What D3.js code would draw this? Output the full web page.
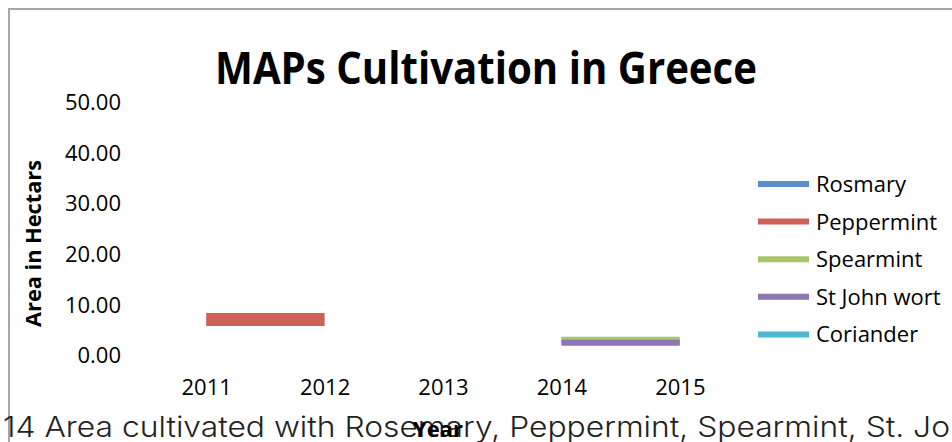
<!DOCTYPE html>
<html>
<head>
<meta charset="utf-8">
<script src="https://cdn.jsdelivr.net/npm/d3@7"></script>
<style>
  html, body { margin: 0; padding: 0; background: #fff; }
  svg { display: block; }
</style>
</head>
<body>
<svg id="chart" width="952" height="442"></svg>
<script>
// Hectares of medicinal and aromatic plants cultivated per year
const years = ["2011", "2012", "2013", "2014", "2015"];
const seriesNames = ["Rosmary", "Peppermint", "Spearmint", "St John wort", "Coriander"];
const seriesColors = ["#5a8ecb", "#cb6159", "#a9c46c", "#8d76b2", "#4fb7d1"];
const rosmary     = [null, null, null, null, null];
const peppermint  = [7.0, 7.0, null, null, null];
const spearmint   = [null, null, null, 3.0, 3.0];
const stJohnWort  = [null, null, null, 2.4, 2.4];
const coriander   = [null, null, null, null, null];
const yTicks = [0, 10, 20, 30, 40, 50];

const seriesValues = [rosmary, peppermint, spearmint, stJohnWort, coriander];
const strokeWidths = [6, 13, 6, 6, 6];

const svg = d3.select("#chart");
const font = "'Open Sans', 'Noto Sans', sans-serif";

// Chart frame
svg.append("path")
  .attr("d", "M9,442 V9 H952")
  .attr("fill", "none")
  .attr("stroke", "#a6a6a6")
  .attr("stroke-width", 2);

const x = d3.scalePoint().domain(years).range([147, 739]).padding(0.5);
const y = d3.scaleLinear().domain([0, 50]).range([355, 101.5]);

// Title
svg.append("text")
  .attr("x", 486).attr("y", 84)
  .attr("text-anchor", "middle")
  .attr("font-family", font).attr("font-weight", 700).attr("font-size", 45)
  .attr("textLength", 542).attr("lengthAdjust", "spacingAndGlyphs")
  .attr("fill", "#000")
  .text("MAPs Cultivation in Greece");

// Value axis (labels only)
const yAxis = svg.append("g")
  .attr("transform", "translate(121,0)")
  .call(d3.axisLeft(y).tickValues(yTicks).tickFormat(d3.format(".2f")).tickSize(0).tickPadding(0));
yAxis.select(".domain").remove();
yAxis.selectAll("text")
  .attr("font-family", font).attr("font-size", 22).attr("fill", "#000")
  .attr("dy", "0.36em");

// Category axis (labels only)
const xAxis = svg.append("g")
  .attr("transform", "translate(0,387)")
  .call(d3.axisBottom(x).tickSize(0).tickPadding(0));
xAxis.select(".domain").remove();
xAxis.selectAll("text")
  .attr("font-family", font).attr("font-size", 22).attr("fill", "#000")
  .attr("dy", "0.36em");

// Axis titles
svg.append("text")
  .attr("transform", "translate(41,243.5) rotate(-90)")
  .attr("text-anchor", "middle")
  .attr("font-family", font).attr("font-weight", 700).attr("font-size", 22)
  .attr("textLength", 167).attr("lengthAdjust", "spacingAndGlyphs")
  .attr("fill", "#000")
  .text("Area in Hectars");

// Series lines
const line = d3.line()
  .defined(d => d.v !== null)
  .x(d => x(d.year))
  .y(d => y(d.v));

seriesValues.forEach((vals, i) => {
  const pts = years.map((yr, j) => ({ year: yr, v: vals[j] }));
  svg.append("path")
    .datum(pts)
    .attr("d", line)
    .attr("fill", "none")
    .attr("stroke", seriesColors[i])
    .attr("stroke-width", strokeWidths[i])
    .attr("stroke-linecap", "butt");
});

// Legend
const legend = svg.append("g").attr("transform", "translate(758,184)");
seriesNames.forEach((name, i) => {
  const g = legend.append("g").attr("transform", `translate(0,${i * 37.6})`);
  g.append("line")
    .attr("x1", 0).attr("x2", 51).attr("y1", 0).attr("y2", 0)
    .attr("stroke", seriesColors[i]).attr("stroke-width", 6);
  g.append("text")
    .attr("x", 58).attr("y", 0).attr("dy", "0.36em")
    .attr("font-family", font).attr("font-size", 22).attr("fill", "#000")
    .text(name);
});

// Figure caption running under the chart
svg.append("text")
  .attr("x", 3).attr("y", 437)
  .attr("font-family", "Inter, Lato, sans-serif").attr("font-weight", 300).attr("font-size", 28)
  .attr("textLength", 947).attr("lengthAdjust", "spacingAndGlyphs")
  .attr("fill", "#222")
  .text("14 Area cultivated with Rosemary, Peppermint, Spearmint, St. Jo");

svg.append("text")
  .attr("x", 438).attr("y", 437)
  .attr("text-anchor", "middle")
  .attr("font-family", font).attr("font-weight", 700).attr("font-size", 22)
  .attr("fill", "#000")
  .text("Year");
</script>
</body>
</html>
